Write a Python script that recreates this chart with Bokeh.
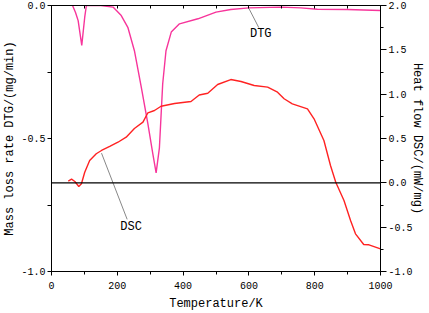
from bokeh.plotting import figure
from bokeh.models import Range1d, LinearAxis, FixedTicker, Span, PrintfTickFormatter
from bokeh.core.properties import value
from bokeh.embed import file_html
from bokeh.resources import INLINE

# ---- data ----
dtg_temp = [64, 73, 81, 92, 101, 106, 120, 150, 187, 212, 232, 252, 273, 293, 308, 318,
            328, 338, 348, 364, 389, 445, 500, 545, 600, 697, 758, 808, 899, 1000]
dtg_rate = [0.0, -0.026, -0.057, -0.15, -0.044, 0.0, 0.0, 0.0, -0.006, -0.038, -0.082, -0.17,
            -0.308, -0.445, -0.558, -0.629, -0.535, -0.294, -0.17, -0.10, -0.069, -0.050,
            -0.025, -0.015, -0.009, -0.006, -0.009, -0.014, -0.015, -0.019]

dsc_temp = [51, 61, 71, 83, 91, 101, 116, 136, 152, 177, 202, 227, 252, 278, 293, 313, 333,
            374, 424, 449, 475, 505, 545, 576, 616, 657, 687, 707, 732, 778, 798, 828, 848,
            864, 889, 909, 924, 949, 965, 1000]
dsc_flow = [0.019, 0.041, 0.015, -0.041, -0.011, 0.120, 0.252, 0.328, 0.365, 0.41, 0.458, 0.515,
            0.613, 0.684, 0.79, 0.816, 0.864, 0.895, 0.917, 0.99, 1.011, 1.109, 1.165, 1.143,
            1.098, 1.079, 1.022, 0.948, 0.891, 0.835, 0.722, 0.477, 0.196, 0.007, -0.2, -0.425,
            -0.575, -0.695, -0.699, -0.744]

x_ticks = [0, 200, 400, 600, 800, 1000]
x_minor = [100, 300, 500, 700, 900]
left_ticks = [-1.0, -0.5, 0.0]
left_minor = [-0.75, -0.25]
right_ticks = [-1.0, -0.5, 0.0, 0.5, 1.0, 1.5, 2.0]
right_minor = [-0.75, -0.25, 0.25, 0.75, 1.25, 1.75]
top_ticks = [0, 100, 200, 300, 400, 500, 600, 700, 800, 900, 1000]

FONT = "Liberation Mono"
DTG_COLOR = "#f7359b"
DSC_COLOR = "#ff2222"

p = figure(width=429, height=313, output_backend="svg", toolbar_location=None,
           x_range=Range1d(0, 1000), y_range=Range1d(-1, 0),
           min_border_left=50, min_border_right=49, min_border_top=5, min_border_bottom=42)
p.extra_y_ranges = {"dsc": Range1d(-1, 2)}
p.xgrid.visible = False
p.ygrid.visible = False
p.outline_line_color = "black"
p.outline_line_width = 1
p.background_fill_color = "white"
p.border_fill_color = "white"

def style(ax, major_out=4, minor_out=3):
    ax.axis_line_color = "black"
    ax.major_tick_line_color = "black"
    ax.minor_tick_line_color = "black"
    ax.major_tick_in = 0
    ax.major_tick_out = major_out
    ax.minor_tick_in = 0
    ax.minor_tick_out = minor_out
    ax.major_label_text_font = FONT
    ax.major_label_text_font_size = "10px"
    ax.major_label_text_color = "black"
    ax.axis_label_text_font = FONT
    ax.axis_label_text_font_size = "12px"
    ax.axis_label_text_font_style = "normal"
    ax.axis_label_text_color = "black"

xa = p.xaxis[0]
xa.ticker = FixedTicker(ticks=x_ticks, minor_ticks=x_minor)
xa.axis_label = "Temperature/K"
style(xa)
xa.major_label_standoff = 6
xa.axis_label_standoff = 5

ya = p.yaxis[0]
ya.ticker = FixedTicker(ticks=left_ticks, minor_ticks=left_minor)
ya.formatter = PrintfTickFormatter(format="%.1f")
ya.axis_label = "Mass loss rate DTG/(mg/min)"
style(ya, 4, 4)
ya.major_label_standoff = 2
ya.axis_label_standoff = 1

ra = LinearAxis(y_range_name="dsc", ticker=FixedTicker(ticks=right_ticks, minor_ticks=right_minor),
                formatter=PrintfTickFormatter(format="%.1f"), axis_label="Heat flow DSC/(mW/mg)")
style(ra, 6, 3)
ra.major_label_standoff = 2
ra.axis_label_standoff = -6
p.add_layout(ra, "right")

ta = LinearAxis(ticker=FixedTicker(ticks=top_ticks))
style(ta)
ta.major_tick_in = 3
ta.major_tick_out = 0
ta.minor_tick_line_color = None
ta.major_label_text_color = None
ta.major_label_text_font_size = "1px"
ta.major_label_standoff = 0
ta.axis_label_standoff = 0
p.add_layout(ta, "above")

p.add_layout(Span(location=0, dimension="width", y_range_name="dsc",
                  line_color="black", line_width=1.2))

p.line(dtg_temp, dtg_rate, line_color=DTG_COLOR, line_width=1.4)
p.line(dsc_temp, dsc_flow, line_color=DSC_COLOR, line_width=1.4, y_range_name="dsc")

# annotations with leader lines
p.line([600, 630], [-0.011, -0.083], line_color="#888888", line_width=1)
p.text(x=[636], y=[-0.106], text=["DTG"], text_font=value(FONT), text_font_size="12px",
       text_align="center", text_baseline="middle", text_color="black")
p.line([152, 230], [-0.555, -0.804], line_color="#888888", line_width=1)
p.text(x=[242], y=[-0.834], text=["DSC"], text_font=value(FONT), text_font_size="12px",
       text_align="center", text_baseline="middle", text_color="black")

open("out.html", "w").write(file_html(p, INLINE))
